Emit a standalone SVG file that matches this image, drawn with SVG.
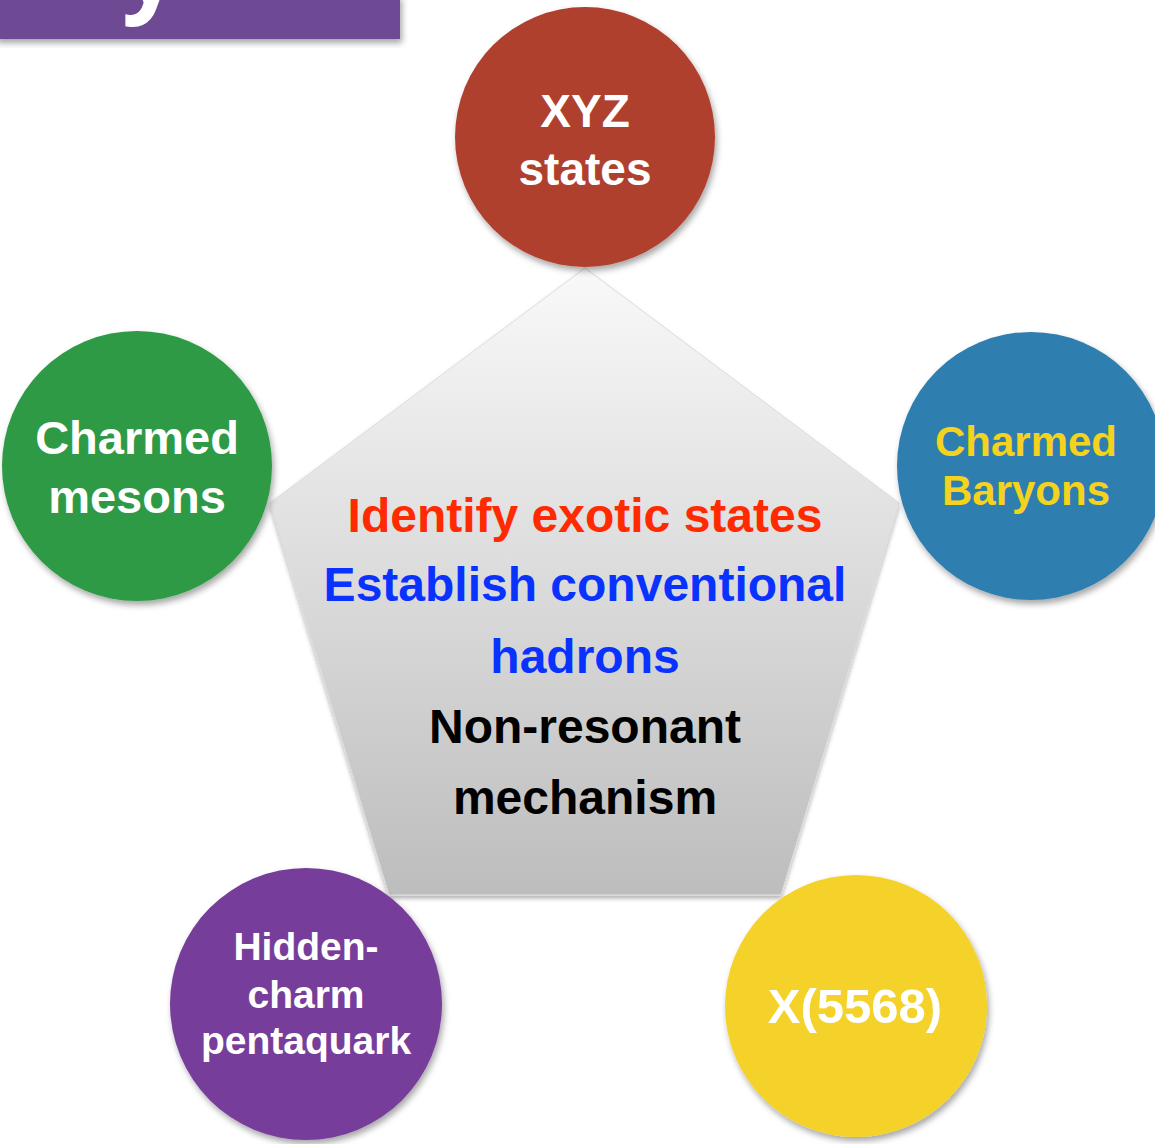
<svg xmlns="http://www.w3.org/2000/svg" width="1155" height="1144" viewBox="0 0 1155 1144">
  <style>
    .lbl { font-family: "Liberation Sans", Arial, sans-serif; font-weight: bold; text-anchor: middle; }
    .white { fill: #ffffff; }
    .center { font-size: 48px; }
  </style>
  <defs>
    <linearGradient id="pentGrad" x1="0" y1="0" x2="0" y2="1">
      <stop offset="0" stop-color="#f9f9f9"/>
      <stop offset="1" stop-color="#bdbdbd"/>
    </linearGradient>
    <filter id="shadow" x="-20%" y="-20%" width="140%" height="140%">
      <feDropShadow dx="2" dy="4" stdDeviation="3" flood-color="#000000" flood-opacity="0.35"/>
    </filter>
    <filter id="pshadow" x="-10%" y="-10%" width="120%" height="120%">
      <feDropShadow dx="0" dy="3" stdDeviation="2" flood-color="#000000" flood-opacity="0.3"/>
    </filter>
  </defs>

  <rect width="1155" height="1144" fill="#ffffff"/>

  <g id="banner">
    <rect x="-5" y="-5" width="405" height="44" fill="#6e4994" filter="url(#shadow)"/>
    <text x="122" y="3" font-family="'Open Sans', 'DejaVu Sans', sans-serif" font-weight="bold" font-size="100" fill="#ffffff">y</text>
  </g>

  <g id="connectors"></g>

  <g id="pentagon">
    <polygon points="585,268 899,503 781,895 389,895 270,503" fill="url(#pentGrad)" stroke="#dcdcdc" stroke-width="1" filter="url(#pshadow)"/>
    <text class="lbl center" x="585" y="532" fill="#ff2a00">Identify exotic states</text>
    <text class="lbl center" x="585" y="601" fill="#0a32ff">Establish conventional</text>
    <text class="lbl center" x="585" y="673" fill="#0a32ff">hadrons</text>
    <text class="lbl center" x="585" y="743" fill="#000000">Non-resonant</text>
    <text class="lbl center" x="585" y="814" fill="#000000">mechanism</text>
  </g>

  <g id="node-xyz">
    <circle cx="585" cy="137" r="130" fill="#b0402f" filter="url(#shadow)"/>
    <text class="lbl white" x="585" y="127" font-size="46">XYZ</text>
    <text class="lbl white" x="585" y="185" font-size="46">states</text>
  </g>

  <g id="node-charmed-mesons">
    <circle cx="137" cy="466" r="135" fill="#2e9a44" filter="url(#shadow)"/>
    <text class="lbl white" x="137" y="454" font-size="47">Charmed</text>
    <text class="lbl white" x="137" y="513" font-size="47">mesons</text>
  </g>

  <g id="node-charmed-baryons">
    <circle cx="1031" cy="466" r="134" fill="#2f7fb0" filter="url(#shadow)"/>
    <text class="lbl" x="1026" y="456" font-size="42" fill="#f5d21e">Charmed</text>
    <text class="lbl" x="1026" y="505" font-size="42" fill="#f5d21e">Baryons</text>
  </g>

  <g id="node-pentaquark">
    <circle cx="306" cy="1004" r="136" fill="#773d9a" filter="url(#shadow)"/>
    <text class="lbl white" x="306" y="960" font-size="39">Hidden-</text>
    <text class="lbl white" x="306" y="1008" font-size="39">charm</text>
    <text class="lbl white" x="306" y="1054" font-size="39">pentaquark</text>
  </g>

  <g id="node-x5568">
    <circle cx="856" cy="1006" r="131" fill="#f4d22a" filter="url(#shadow)"/>
    <text class="lbl white" x="855" y="1023" font-size="49">X(5568)</text>
  </g>
</svg>
